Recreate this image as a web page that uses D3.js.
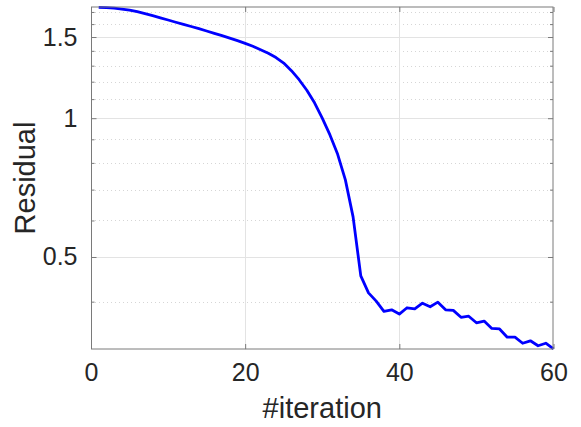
<!DOCTYPE html>
<html>
<head>
<meta charset="utf-8">
<script src="https://cdn.jsdelivr.net/npm/d3@7"></script>
<style>
  html, body { margin: 0; padding: 0; background: #fff; }
  svg { display: block; }
  text { font-family: "Liberation Sans", Arial, Helvetica, sans-serif; fill: #262626; }
</style>
</head>
<body>
<script>
// ---- data ----
const iterations = d3.range(1, 61);
const residual = [
  1.740, 1.737, 1.732, 1.725, 1.715, 1.702, 1.686, 1.669, 1.651, 1.633,
  1.615, 1.598, 1.581, 1.564, 1.546, 1.528, 1.510, 1.492, 1.473, 1.453,
  1.432, 1.408, 1.383, 1.354, 1.317, 1.268, 1.212, 1.150, 1.080, 1.000,
  0.920, 0.835, 0.735, 0.611, 0.455, 0.418, 0.401, 0.381, 0.384, 0.376,
  0.388, 0.386, 0.397, 0.390, 0.399, 0.384, 0.383, 0.370, 0.372, 0.360,
  0.363, 0.350, 0.349, 0.335, 0.335, 0.325, 0.329, 0.321, 0.325, 0.316
];
const xTicks = [0, 20, 40, 60];
const yMajorTicks = [0.5, 1, 1.5];
const yTickLabels = ["0.5", "1", "1.5"];
const yMinorTicks = [0.4, 0.6, 0.7, 0.8, 0.9, 1.1, 1.2, 1.3, 1.4, 1.6, 1.7];
const xDomain = [0, 60];
const yDomain = [0.315, 1.747];
const xLabel = "#iteration";
const yLabel = "Residual";

// ---- layout ----
const W = 581, H = 427;
const pL = 91, pT = 6.5, pR = 553.5, pB = 349.5;

const svg = d3.select("body").append("svg").attr("width", W).attr("height", H);

const x = d3.scaleLinear().domain(xDomain).range([pL, pR]);
const y = d3.scaleLog().domain(yDomain).range([pB, pT]);

const g = svg.append("g");

// minor grid (dotted)
g.selectAll("line.minor").data(yMinorTicks).enter().append("line")
  .attr("x1", pL).attr("x2", pR)
  .attr("y1", d => Math.round(y(d)) + 0.5).attr("y2", d => Math.round(y(d)) + 0.5)
  .attr("stroke", "#d6d6d6").attr("stroke-width", 1).attr("stroke-dasharray", "1,3");

// major grid
g.selectAll("line.majy").data(yMajorTicks).enter().append("line")
  .attr("x1", pL).attr("x2", pR)
  .attr("y1", d => Math.round(y(d)) + 0.5).attr("y2", d => Math.round(y(d)) + 0.5)
  .attr("stroke", "#e3e3e3").attr("stroke-width", 1);
g.selectAll("line.majx").data(xTicks.slice(1, -1)).enter().append("line")
  .attr("x1", d => Math.round(x(d)) + 0.5).attr("x2", d => Math.round(x(d)) + 0.5)
  .attr("y1", pT).attr("y2", pB)
  .attr("stroke", "#e3e3e3").attr("stroke-width", 1);

// data line
const line = d3.line().x((d, i) => x(iterations[i])).y(d => y(d));
svg.append("path").datum(residual)
  .attr("d", line)
  .attr("fill", "none").attr("stroke", "#0000ff")
  .attr("stroke-width", 2.8).attr("stroke-linejoin", "round");

// axes box
const axisColor = "#7a7a7a";
svg.append("rect")
  .attr("x", pL + 0.5).attr("y", pT + 0.5)
  .attr("width", pR - pL - 1).attr("height", pB - pT - 1)
  .attr("fill", "none").attr("stroke", axisColor).attr("stroke-width", 1);

function styleTicks(sel) {
  sel.select(".domain").remove();
  sel.selectAll(".tick line").attr("stroke", axisColor);
  sel.selectAll(".tick text").attr("font-size", 25).attr("fill", "#262626")
    .attr("font-family", '"Liberation Sans", Arial, sans-serif');
}

// y axis ticks (left & right, inward)
svg.append("g").attr("transform", `translate(${pL + 0.5},0)`)
  .call(d3.axisLeft(y).tickValues(yMajorTicks).tickSize(-5)
    .tickFormat((d, i) => yTickLabels[i]).tickPadding(14))
  .call(styleTicks);
svg.append("g").attr("transform", `translate(${pL + 0.5},0)`)
  .call(d3.axisLeft(y).tickValues(yMinorTicks).tickSize(-3).tickFormat(""))
  .call(styleTicks);
svg.append("g").attr("transform", `translate(${pR - 0.5},0)`)
  .call(d3.axisRight(y).tickValues(yMajorTicks).tickSize(-5).tickFormat(""))
  .call(styleTicks);
svg.append("g").attr("transform", `translate(${pR - 0.5},0)`)
  .call(d3.axisRight(y).tickValues(yMinorTicks).tickSize(-3).tickFormat(""))
  .call(styleTicks);

// x axis ticks (bottom & top, inward)
svg.append("g").attr("transform", `translate(0,${pB - 0.5})`)
  .call(d3.axisBottom(x).tickValues(xTicks).tickSize(-5).tickPadding(14).tickFormat(d3.format("d")))
  .call(styleTicks);
svg.append("g").attr("transform", `translate(0,${pT + 0.5})`)
  .call(d3.axisTop(x).tickValues(xTicks).tickSize(-5).tickFormat(""))
  .call(styleTicks);

// axis labels
svg.append("text")
  .attr("x", (pL + pR) / 2).attr("y", 418)
  .attr("text-anchor", "middle").attr("font-size", 29)
  .text(xLabel);
svg.append("text")
  .attr("transform", `translate(35,${(pT + pB) / 2}) rotate(-90)`)
  .attr("text-anchor", "middle").attr("font-size", 29)
  .text(yLabel);
</script>
</body>
</html>
